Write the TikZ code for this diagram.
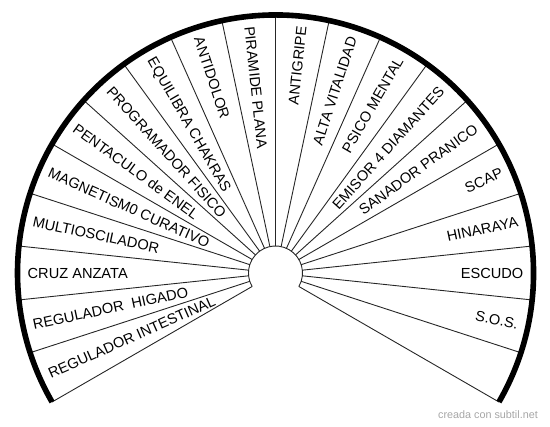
\documentclass[tikz,border=0pt]{standalone}
\usepackage{fontspec}
\setmainfont{Liberation Sans}
\usetikzlibrary{calc}
\begin{document}
\begin{tikzpicture}[x=1pt,y=1pt,
  spoke/.style={line width=0.9pt, black!85},
  rim/.style={line width=5.6pt, black},
  lbl/.style={font=\fontsize{14.6}{16}\selectfont, inner sep=0pt, text height=10.4pt, text depth=0pt},
  wmark/.style={font=\fontsize{10.8}{12}\selectfont, text=black!35, inner sep=0pt}]
\useasboundingbox (0,0) rectangle (550,427);
\coordinate (c) at (275.5,154);
% spokes
\foreach \a in {-30,-18,...,210}
  \draw[spoke] ($(c)+(\a:27)$) -- ($(c)+(\a:258)$);
% inner arc
\draw[spoke] ($(c)+(-30:27)$) arc[start angle=-30, end angle=210, radius=27];
% outer rim
\draw[rim] ($(c)+(-30:258)$) arc[start angle=-30, end angle=210, radius=258];
% left labels (read inward)
\foreach \a/\t/\n in {204/{REGULADOR INTESTINAL}/l1, 192/{REGULADOR\ \ HIGADO}/l2,
  180/{CRUZ ANZATA}/l3, 168/{MULTIOSCILADOR}/l4, 156/{MAGNETISM0 CURATIVO}/l5,
  144/{PENTACULO de ENEL}/l6, 132/{PROGRAMADOR FISICO}/l7, 120/{EQUILIBRA CHAKRAS}/l8,
  108/{ANTIDOLOR}/l9, 96/{PIRAMIDE PLANA}/l10}
  \node[lbl, anchor=west, rotate=\a-180] (\n) at ($(c)+(\a:248)$) {\t};
% right labels (read outward)
\foreach \a/\t/\n in {84/{ANTIGRIPE}/r1, 72/{ALTA VITALIDAD}/r2, 60/{PSICO MENTAL}/r3,
  48/{EMISOR 4 DIAMANTES}/r4, 36/{SANADOR PRANICO}/r5, 24/{SCAP}/r6,
  12/{HINARAYA}/r7, 0/{ESCUDO}/r8, -12/{S.O.S.}/r9}
  \node[lbl, anchor=east, rotate=\a] (\n) at ($(c)+(\a:248)$) {\t};
\node[wmark, anchor=east] (wm) at (538,12) {creada con subtil.net};
\end{tikzpicture}
\end{document}
